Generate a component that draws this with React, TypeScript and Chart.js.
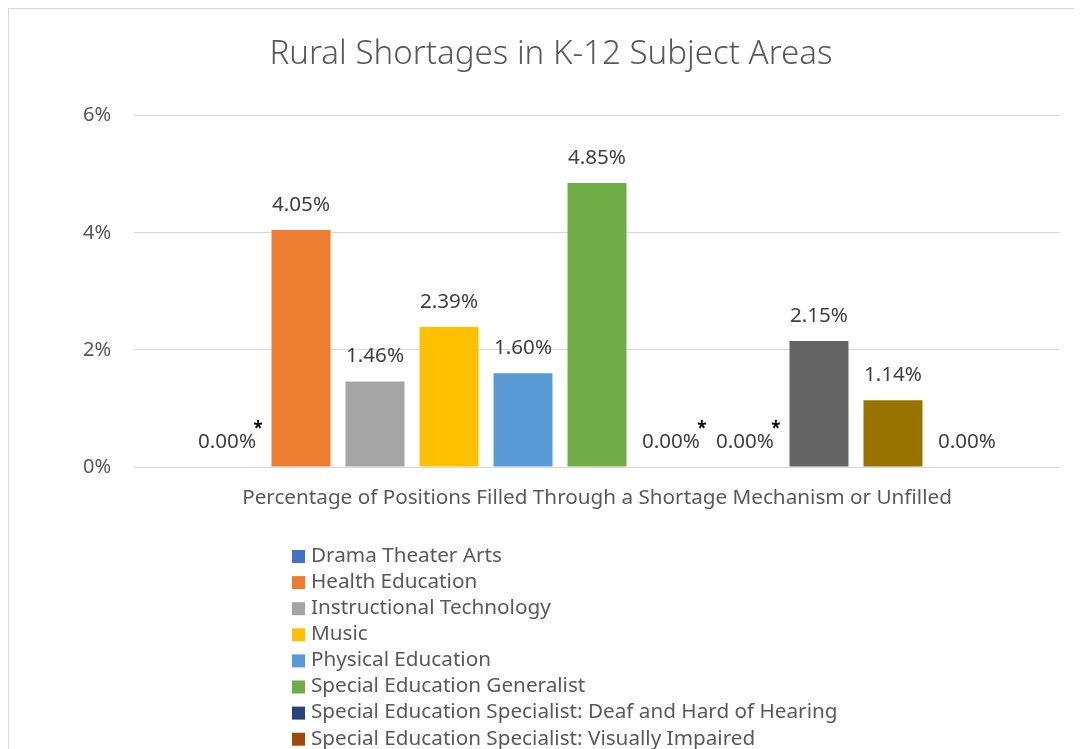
import React, { useEffect, useRef } from "react";
import { Chart, registerables } from "chart.js";

Chart.register(...registerables);

const FONT = "'Noto Sans', 'DejaVu Sans', sans-serif";

const categories = ["Percentage of Positions Filled Through a Shortage Mechanism or Unfilled"];
const seriesNames = [
  "Drama Theater Arts",
  "Health Education",
  "Instructional Technology",
  "Music",
  "Physical Education",
  "Special Education Generalist",
  "Special Education Specialist: Deaf and Hard of Hearing",
  "Special Education Specialist: Visually Impaired",
  "Technology Education",
  "Visual Arts",
  "World Languages",
];
const seriesValues = [0, 4.05, 1.46, 2.39, 1.6, 4.85, 0, 0, 2.15, 1.14, 0];
const seriesColors = [
  "#4472C4",
  "#ED7D31",
  "#A5A5A5",
  "#FFC000",
  "#5B9BD5",
  "#70AD47",
  "#264478",
  "#9E480E",
  "#636363",
  "#997300",
  "#255E91",
];
const asteriskFlags = [true, false, false, false, false, false, true, true, false, false, false];
const yTickValues = [0, 2, 4, 6];
const chartTitle = "Rural Shortages in K-12 Subject Areas";

const dataLabelPlugin = {
  id: "dataLabels",
  afterDatasetsDraw(chart: any) {
    const ctx = chart.ctx;
    ctx.save();
    chart.data.datasets.forEach((ds: any, i: number) => {
      const meta = chart.getDatasetMeta(i);
      meta.data.forEach((bar: any, j: number) => {
        const v = ds.data[j] as number;
        const txt = v.toFixed(2) + "%";
        ctx.font = `20.6px ${FONT}`;
        ctx.fillStyle = "#404040";
        ctx.textAlign = "center";
        ctx.textBaseline = "middle";
        const cy = bar.y - 25;
        ctx.fillText(txt, bar.x, cy);
        if (asteriskFlags[i]) {
          const w = ctx.measureText(txt).width;
          ctx.font = `bold 17px ${FONT}`;
          ctx.fillStyle = "#000000";
          ctx.fillText("*", bar.x + w / 2 + 2, cy - 13);
        }
      });
    });
    ctx.restore();
  },
};

const legendPlugin = {
  id: "listLegend",
  afterDraw(chart: any) {
    const ctx = chart.ctx;
    const top = chart.chartArea.bottom + 89;
    const boxX = 283;
    const textX = 302;
    ctx.save();
    ctx.font = `20.7px ${FONT}`;
    ctx.textAlign = "left";
    ctx.textBaseline = "middle";
    chart.data.datasets.forEach((ds: any, i: number) => {
      const y = top + i * 26.1;
      ctx.fillStyle = ds.backgroundColor;
      ctx.fillRect(boxX, y - 6, 13, 13);
      ctx.fillStyle = "#595959";
      ctx.fillText(ds.label, textX, y);
    });
    ctx.restore();
  },
};

export default function App() {
  const ref = useRef<HTMLCanvasElement | null>(null);

  useEffect(() => {
    if (!ref.current) return;
    const chart = new Chart(ref.current, {
      type: "bar",
      data: {
        labels: categories,
        datasets: seriesNames.map((name, i) => ({
          label: name,
          data: [seriesValues[i]],
          backgroundColor: seriesColors[i],
          borderWidth: 0,
          categoryPercentage: 0.879,
          barPercentage: 0.797,
        })),
      },
      options: {
        animation: false,
        responsive: false,
        maintainAspectRatio: false,
        layout: { padding: { top: 0, left: 33, right: 22, bottom: 222 } },
        plugins: {
          legend: { display: false },
          tooltip: { enabled: false },
          title: {
            display: true,
            text: chartTitle,
            color: "#595959",
            font: { family: FONT, size: 33.1, weight: "300" as any },
            padding: { top: 26, bottom: 41 },
          },
        },
        scales: {
          x: {
            grid: { display: false, drawTicks: false },
            border: { display: false },
            ticks: { color: "#595959", font: { family: FONT, size: 20.7 }, padding: 19 },
            afterFit: (s: any) => {
              s.height = 60;
            },
          },
          y: {
            min: 0,
            max: 6,
            afterBuildTicks: (s: any) => {
              s.ticks = yTickValues.map((v) => ({ value: v }));
            },
            grid: { color: "#D9D9D9", lineWidth: 1, drawTicks: false },
            border: { display: false },
            ticks: {
              color: "#595959",
              font: { family: FONT, size: 20 },
              padding: 23,
              callback: (v: any) => v + "%",
            },
            afterFit: (s: any) => {
              s.width = 92;
            },
          },
        },
      },
      plugins: [dataLabelPlugin, legendPlugin],
    });
    return () => chart.destroy();
  }, []);

  return (
    <div
      style={{
        position: "relative",
        width: 1074,
        height: 741,
        borderLeft: "1px solid #D9D9D9",
        borderTop: "1px solid #D9D9D9",
        boxSizing: "border-box",
        overflow: "hidden",
        background: "#fff",
      }}
    >
      <canvas ref={ref} width={1073} height={740} style={{ display: "block" }} />
    </div>
  );
}
